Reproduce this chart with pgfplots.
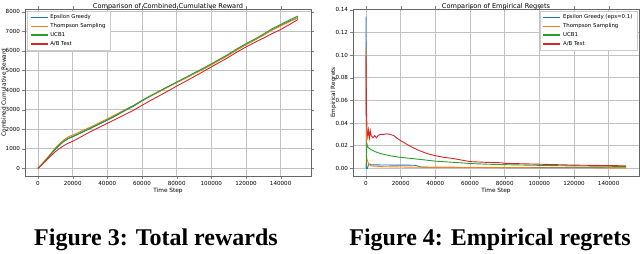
\documentclass[border=0pt]{standalone}
\usepackage{fontspec}
\usepackage{pgfplots}
\pgfplotsset{compat=1.18}
\setmainfont{DejaVu Sans}
\newfontfamily\capfont{Liberation Serif}
\definecolor{tabblue}{HTML}{1F77B4}
\definecolor{taborange}{HTML}{FF7F0E}
\definecolor{tabgreen}{HTML}{2CA02C}
\definecolor{tabred}{HTML}{D62728}
\pgfplotsset{
  mpl/.style={
    scale only axis,
    width=286pt, height=167pt,
    xmin=-7500, xmax=157500,
    xtick={0,20000,40000,60000,80000,100000,120000,140000},
    scaled x ticks=false,
    scaled y ticks=false,
    x tick label style={/pgf/number format/.cd, fixed, 1000 sep={}},
    /pgf/number format/assume math mode=true,
    tick label style={font=\fontsize{5.6}{6.5}\selectfont},
    label style={font=\fontsize{5.8}{7}\selectfont},
    title style={font=\fontsize{6.6}{8}\selectfont, yshift=-8.5pt},
    xlabel={Time Step},
    xlabel style={at={(axis description cs:0.5,0)}, anchor=north, yshift=-12pt, inner sep=0pt},
    grid=major,
    grid style={color=black!24, line width=0.6pt},
    axis line style={color=black!60, line width=0.8pt},
    tick align=outside,
    major tick length=3pt,
    every axis plot/.append style={line width=0.9pt},
    legend cell align=left,
    legend style={draw=black!20, legend image post style={line width=1.3pt}},
  }
}
\begin{document}
\fontsize{5.4}{6.6}\selectfont
\begin{tikzpicture}[x=1pt,y=1pt]
\useasboundingbox (0,0) rectangle (640,254);
% ---------- Left: cumulative reward ----------
\begin{axis}[mpl, at={(25pt,78pt)}, anchor=south west,
  ymin=-390, ymax=8140,
  ytick={0,1000,2000,3000,4000,5000,6000,7000,8000},
  y tick label style={/pgf/number format/.cd, fixed, 1000 sep={}},
  ylabel={Combined Cumulative Reward},
  ylabel style={at={(axis description cs:-0.066,0.5)}, anchor=south, inner sep=0pt},
  title={Comparison of Combined Cumulative Reward},
  legend style={at={(0.006,0.99)}, anchor=north west},
]
\addplot[tabblue, no marks] coordinates {
(0,0) (2500,225) (5000,470) (7500,720) (10000,970) (12500,1190) (15000,1380) (17500,1520) (20000,1610)
(25000,1820) (30000,2030) (35000,2240) (40000,2460) (45000,2690) (50000,2940) (55000,3170)
(60000,3440) (65000,3690) (70000,3920) (75000,4160) (80000,4390) (85000,4610) (90000,4840)
(95000,5060) (100000,5300) (105000,5550) (110000,5800) (115000,6070) (120000,6320) (125000,6560)
(130000,6810) (135000,7070) (140000,7300) (145000,7520) (150000,7700)};
\addplot[taborange, no marks] coordinates {
(0,0) (2500,235) (5000,500) (7500,770) (10000,1040) (12500,1270) (15000,1460) (17500,1610) (20000,1700)
(25000,1900) (30000,2100) (35000,2310) (40000,2530) (45000,2760) (50000,2990) (55000,3210)
(60000,3460) (65000,3700) (70000,3920) (75000,4160) (80000,4390) (85000,4600) (90000,4830)
(95000,5050) (100000,5290) (105000,5540) (110000,5790) (115000,6060) (120000,6330) (125000,6560)
(130000,6800) (135000,7060) (140000,7270) (145000,7490) (150000,7680)};
\addplot[tabgreen, no marks] coordinates {
(0,0) (2500,230) (5000,480) (7500,740) (10000,1000) (12500,1220) (15000,1400) (17500,1540) (20000,1630)
(25000,1840) (30000,2050) (35000,2260) (40000,2480) (45000,2710) (50000,2960) (55000,3200)
(60000,3470) (65000,3720) (70000,3950) (75000,4180) (80000,4410) (85000,4640) (90000,4870)
(95000,5100) (100000,5340) (105000,5590) (110000,5840) (115000,6120) (120000,6370) (125000,6600)
(130000,6860) (135000,7130) (140000,7350) (145000,7580) (150000,7780)};
\addplot[tabred, no marks] coordinates {
(0,0) (2500,200) (5000,420) (7500,640) (10000,850) (12500,1020) (15000,1170) (17500,1290) (20000,1380)
(25000,1620) (30000,1860) (35000,2080) (40000,2300) (45000,2520) (50000,2740) (55000,2960)
(60000,3220) (65000,3470) (70000,3710) (75000,3950) (80000,4200) (85000,4440) (90000,4680)
(95000,4930) (100000,5180) (105000,5430) (110000,5680) (115000,5950) (120000,6200) (125000,6430)
(130000,6650) (135000,6880) (140000,7090) (145000,7340) (150000,7600)};
\legend{Epsilon Greedy, Thompson Sampling, UCB1, A/B Test}
\end{axis}
% ---------- Right: empirical regrets ----------
\begin{axis}[mpl, at={(353pt,78pt)}, anchor=south west,
  ymin=-0.0067, ymax=0.1407,
  ytick={0,0.02,0.04,0.06,0.08,0.10,0.12,0.14},
  y tick label style={/pgf/number format/.cd, fixed, fixed zerofill, precision=2},
  ylabel={Empirical Regrets},
  ylabel style={at={(axis description cs:-0.058,0.5)}, anchor=south, inner sep=0pt},
  title={Comparison of Empirical Regrets},
  legend style={at={(0.995,0.99)}, anchor=north east},
]
\addplot[tabblue, no marks] coordinates {
(1,0.134) (100,0.05) (300,0.0) (800,0.0) (1500,0.004) (3000,0.0032) (10000,0.0030) (20000,0.0029)
(28000,0.0028) (32000,0.0012) (40000,0.0009) (60000,0.0008) (100000,0.0007) (150000,0.0006)};
\addplot[taborange, no marks] coordinates {
(1,0.107) (100,0.05) (300,0.012) (600,0.008) (1500,0.004) (3000,0.0022) (10000,0.0015)
(30000,0.0010) (60000,0.0008) (100000,0.0006) (150000,0.0005)};
\addplot[tabgreen, no marks] coordinates {
(1,0.0) (500,0.022) (1000,0.019) (2000,0.0175) (3000,0.0165) (5000,0.0150) (8000,0.0132)
(12000,0.0118) (16000,0.0106) (20000,0.0097) (26000,0.0088) (32000,0.0078) (40000,0.0064)
(46000,0.0058) (55000,0.0049) (60000,0.0043) (70000,0.0037) (80000,0.0033) (90000,0.0030)
(100000,0.0027) (110000,0.0024) (120000,0.0022) (135000,0.0020) (150000,0.0017)};
\addplot[tabred, no marks] coordinates {
(1,0.099) (300,0.05) (600,0.035) (1000,0.028) (1500,0.034) (2000,0.027) (2500,0.033) (3000,0.029)
(4000,0.027) (5000,0.029) (6000,0.027) (7000,0.029) (8000,0.030) (10000,0.0300) (12000,0.0305)
(14000,0.0300) (16000,0.0290) (18000,0.0265) (20000,0.0245) (25000,0.0200) (30000,0.0162)
(35000,0.0132) (40000,0.0112) (45000,0.0098) (50000,0.0088) (55000,0.0074) (60000,0.0060)
(70000,0.0053) (78000,0.0050) (80000,0.0045) (90000,0.0041) (100000,0.0037) (110000,0.0033)
(120000,0.0029) (130000,0.0027) (140000,0.0025) (150000,0.0023)};
\legend{Epsilon Greedy (eps=0.1), Thompson Sampling, UCB1, A/B Test}
\end{axis}
% ---------- Captions ----------
\node[anchor=base, font=\capfont\bfseries\fontsize{24}{28}\selectfont, inner sep=0pt] at (156,8) {Figure 3: Total rewards};
\node[anchor=base, font=\capfont\bfseries\fontsize{24}{28}\selectfont, inner sep=0pt] at (490,8) {Figure 4: Empirical regrets};
\end{tikzpicture}
\end{document}
